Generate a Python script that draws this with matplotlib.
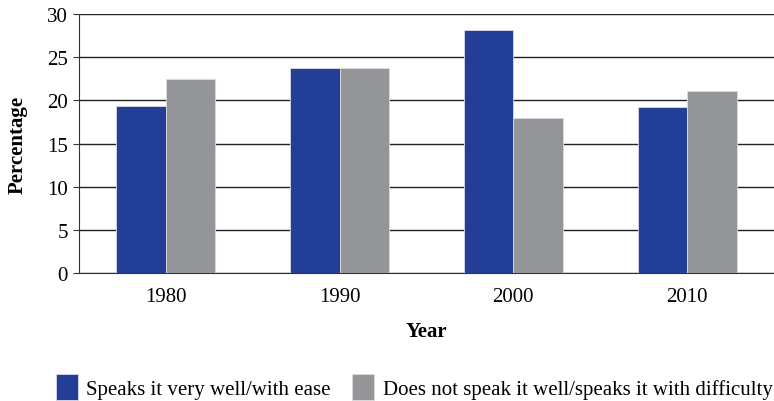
import matplotlib.pyplot as plt
import numpy as np

plt.rcParams['font.family'] = ['Liberation Serif', 'DejaVu Serif']

# data
years = ['1980', '1990', '2000', '2010']
speaks_well = [19.3, 23.7, 28.1, 19.2]
speaks_difficulty = [22.5, 23.7, 17.9, 21.1]
labels = ['Speaks it very well/with ease',
          'Does not speak it well/speaks it with difficulty']

blue = '#233e96'
gray = '#949599'

fig = plt.figure(figsize=(7.74, 4.02), dpi=100)
ax = fig.add_axes([0.102, 0.318, 0.898, 0.645])

x = np.arange(len(years))
w = 0.285
ax.bar(x - w / 2, speaks_well, w, color=blue, edgecolor='#d8dbe8', linewidth=0.6,
       label=labels[0], zorder=3)
ax.bar(x + w / 2, speaks_difficulty, w, color=gray, edgecolor='#dcdcdc', linewidth=0.6,
       label=labels[1], zorder=3)

ax.set_xlim(-0.5, 3.5)
ax.set_ylim(0, 30)
ax.set_yticks(range(0, 31, 5))
ax.set_xticks(x)
ax.set_xticklabels(years)
ax.yaxis.grid(True, color='#222222', linewidth=1.0, zorder=0)
ax.set_axisbelow(True)

for s in ['top', 'right']:
    ax.spines[s].set_visible(False)
ax.spines['left'].set_color('#333333')
ax.spines['bottom'].set_color('#333333')
ax.tick_params(axis='y', length=4, color='#333333', labelsize=15, pad=4)
ax.tick_params(axis='x', length=0, labelsize=15, pad=10)

ax.set_ylabel('Percentage', fontsize=15, fontweight='bold', labelpad=14)
ax.set_xlabel('Year', fontsize=15, fontweight='bold', labelpad=11)

fig.legend(loc='lower center', bbox_to_anchor=(0.535, -0.045), ncol=2, frameon=False,
           fontsize=15, handlelength=1.05, handleheight=1.6, handletextpad=0.43,
           columnspacing=1.0)

fig.savefig('out.png', dpi=100)
